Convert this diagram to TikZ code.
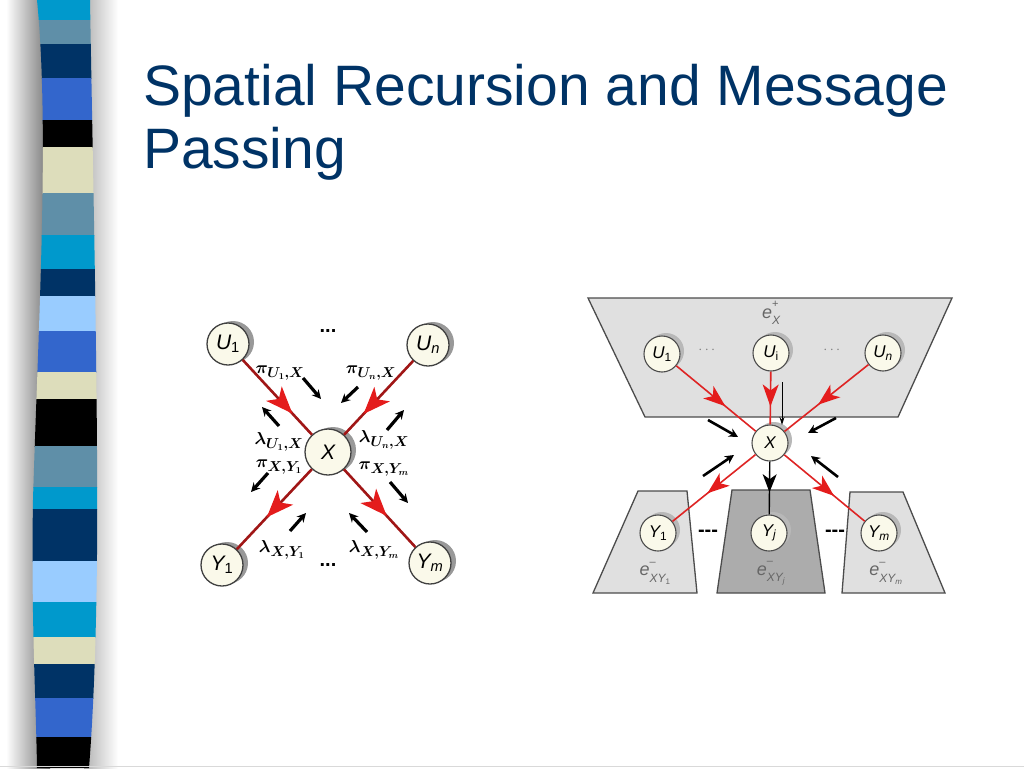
\documentclass[tikz,border=0pt]{standalone}
\usepackage{fontspec}
\setmainfont{Liberation Sans}
\usepackage{amsmath}
\usetikzlibrary{arrows.meta}
\usetikzlibrary{decorations.markings}
\usetikzlibrary{shadows}
\usetikzlibrary{positioning}

\definecolor{titleblue}{RGB}{0,51,102}
\definecolor{nodecream}{RGB}{250,249,234}
\definecolor{bondred}{RGB}{160,22,22}
\definecolor{headred}{RGB}{228,28,28}
\definecolor{linkred}{RGB}{222,36,36}
\definecolor{panelgray}{RGB}{224,224,224}
\definecolor{paneldark}{RGB}{172,172,172}
\definecolor{stcyan}{RGB}{0,153,204}
\definecolor{ststeel}{RGB}{95,143,168}
\definecolor{stnavy}{RGB}{0,51,102}
\definecolor{stblue}{RGB}{51,102,204}
\definecolor{stbeige}{RGB}{221,221,187}
\definecolor{stlight}{RGB}{153,204,255}

\newcommand\nodesub[1]{\textsubscript{\upshape #1}}
\newcommand\evid[2]{\textit{e}\rlap{\raisebox{0.6em}{\fontsize{11}{11}\selectfont #1}}%
  \raisebox{-0.35em}{\fontsize{12}{12}\selectfont\itshape #2}}

\tikzset{
  % barbed heads used half way along an edge
  red barb/.tip = {Stealth[length=27pt,width=21pt,inset=7pt,color=headred]},
  small barb/.tip = {Stealth[length=22pt,width=16pt,inset=6pt,color=headred]},
  black barb/.tip = {Stealth[length=18pt,width=14pt,inset=5pt,color=black]},
  mid head/.style 2 args = {
    postaction = {
      decorate,
      decoration = {
        markings,
        mark = at position #1 with {\arrow{#2}}
      }
    }
  }
}
\tikzset {
  title text/.style = {
    font = \fontsize{57}{63}\selectfont,
    text = titleblue,
    inner sep = 0
  },
  % variable of the left network
  bnode/.style = {
    circle,
    draw = black!75,
    line width = 1.3pt,
    fill = nodecream,
    minimum size = 42pt,
    inner sep = 0,
    font = \fontsize{21}{21}\selectfont\itshape,
    general shadow = {fill=black!40, shadow xshift=5pt, shadow yshift=2pt}
  },
  % variable of the right network
  rnode/.style = {
    circle,
    draw = black!70,
    line width = 1.1pt,
    fill = nodecream,
    minimum size = 36pt,
    inner sep = 0,
    font = \fontsize{17}{17}\selectfont\itshape,
    general shadow = {fill=black!28, shadow xshift=4pt, shadow yshift=3pt}
  },
  bond/.style = {
    draw = bondred,
    line width = 2.6pt
  },
  link/.style = {
    draw = linkred,
    line width = 1.6pt
  },
  % message arrows
  msg/.style = {
    -{Stealth[length=9pt,width=9pt]},
    line width = 3.2pt
  },
  thin msg/.style = {
    -{Stealth[length=8pt,width=5pt]},
    line width = 1pt
  },
  msg label/.style = {
    font = \fontsize{19}{19}\selectfont,
    inner sep = 0
  },
  evidence/.style = {
    font = \fontsize{18}{18}\selectfont,
    text = black!60,
    inner sep = 0
  },
  panel/.style = {
    draw = black!70,
    line width = 1.3pt,
    fill = panelgray
  },
  dots/.style = {
    font = \fontsize{20}{20}\selectfont\bfseries,
    inner sep = 0
  }
}

\begin{document}
\begin{tikzpicture}[x=1pt,y=-1pt]
  \useasboundingbox (0,0) rectangle (1024,768);

  % striped side bar
  \shade[left color=white, right color=black!55] (6,0) rectangle (50,768);
  \shade[left color=black!30, right color=white] (84,0) rectangle (118,768);
  \begin{scope}
    \clip (37,0) .. controls (50,130) and (38,330) .. (33,500)
      .. controls (31,620) and (36,700) .. (37,768)
      -- (89,768) .. controls (96,680) and (98,560) .. (97,450)
      .. controls (96,300) and (92,120) .. (90,0) -- cycle;
    \foreach \ya/\yb/\col in {0/20/stcyan, 20/44/ststeel, 44/78/stnavy,
      78/120/stblue, 120/147/black, 147/193/stbeige, 193/235/ststeel,
      235/269/stcyan, 269/296/stnavy, 296/331/stlight, 331/372/stblue,
      372/399/stbeige, 399/446/black, 446/487/ststeel, 487/509/stcyan,
      509/561/stnavy, 561/602/stlight, 602/637/stcyan, 637/664/stbeige,
      664/698/stnavy, 698/737/stblue, 737/768/black}
      \fill[\col] (20,\ya) rectangle (110,{\yb+0.5});
  \end{scope}
  \draw[black!15, line width=1pt] (0,766) -- (1024,766);

  \node[title text, anchor=base west] (title1) at (143,105) {Spatial Recursion and Message};
  \node[title text, anchor=base west] (title2) at (143,168) {Passing};

  % left network
  \node[bnode] (u1) at (228,344) {U\nodesub{1}};
  \node[bnode] (un) at (428,345) {U\textsubscript{n}};
  \node[bnode, minimum size=46pt] (x) at (328,452) {X};
  \node[bnode] (y1) at (222,565) {Y\nodesub{1}};
  \node[bnode] (ym) at (430,563) {Y\textsubscript{m}};
  \node[dots] (topdots) at (328,331) {...};
  \node[dots] (botdots) at (328,565) {...};

  \draw[bond, mid head={0.72}{red barb}] (u1) -- (x);
  \draw[bond, mid head={0.72}{red barb}] (un) -- (x);
  \draw[bond, mid head={0.6}{red barb}] (x) -- (y1);
  \draw[bond, mid head={0.6}{red barb}] (x) -- (ym);

  \node[msg label] (pi-u1) at (280,373) {$\boldsymbol{\pi_{U_1,X}}$};
  \node[msg label] (pi-un) at (371,373) {$\boldsymbol{\pi_{U_n,X}}$};
  \node[msg label] (la-u1) at (279,442) {$\boldsymbol{\lambda_{U_1,X}}$};
  \node[msg label] (la-un) at (384,440) {$\boldsymbol{\lambda_{U_n,X}}$};
  \node[msg label] (pi-y1) at (279,467) {$\boldsymbol{\pi_{X,Y_1}}$};
  \node[msg label] (pi-ym) at (384,469) {$\boldsymbol{\pi_{X,Y_m}}$};
  \node[msg label] (la-y1) at (282,550) {$\boldsymbol{\lambda_{X,Y_1}}$};
  \node[msg label] (la-ym) at (374,550) {$\boldsymbol{\lambda_{X,Y_m}}$};

  \foreach \n/\xa/\ya/\xb/\yb in {1/303/378/321/399, 2/358/387/341/403,
      3/279/426/262/407, 4/387/430/404/410, 5/268/473/251/492,
      6/390/482/408/503, 7/290/531/306/513, 8/367/532/349/513} {
    \coordinate (m\n a) at (\xa,\ya);
    \coordinate (m\n b) at (\xb,\yb);
    \draw[msg] (m\n a) -- (m\n b);
  }

  % right network
  \draw[panel] (588,298) -- (952,298) -- (898,417) -- (645,417) -- cycle;
  \draw[panel] (638,491) -- (687,491) -- (697,593) -- (593,593) -- cycle;
  \draw[panel, fill=paneldark] (732,490) -- (810,490) -- (825,593) -- (717,593) -- cycle;
  \draw[panel] (850,492) -- (903,492) -- (945,593) -- (842,593) -- cycle;

  \node[rnode] (ru1) at (662,354) {U\nodesub{1}};
  \node[rnode] (rui) at (771,353) {U\nodesub{i}};
  \node[rnode] (run) at (883,353) {U\textsubscript{n}};
  \node[rnode] (rx) at (770,443) {X};
  \node[rnode] (ry1) at (658,533) {Y\nodesub{1}};
  \node[rnode] (ryj) at (769,533) {Y\textsubscript{j}};
  \node[rnode] (rym) at (879,533) {Y\textsubscript{m}};

  \node[evidence] (eplus) at (771,313) {\evid{+}{X}};
  \node[evidence] (ey1) at (655,573) {\evid{--}{XY\nodesub{1}}};
  \node[evidence] (eyj) at (771,573) {\evid{--}{XY\textsubscript{j}}};
  \node[evidence] (eym) at (886,573) {\evid{--}{XY\textsubscript{m}}};

  \node[text=black!50, font=\fontsize{14}{14}\selectfont] (udots1) at (708,350) {$\cdots$};
  \node[text=black!50, font=\fontsize{14}{14}\selectfont] (udots2) at (833,350) {$\cdots$};
  \node[dots] (ydots1) at (708,533) {-{}-{}-};
  \node[dots] (ydots2) at (835,533) {-{}-{}-};

  \draw[link, mid head={0.62}{small barb}] (ru1) -- (rx);
  \draw[link, mid head={0.66}{small barb}] (rui) -- (rx);
  \draw[link, mid head={0.6}{small barb}] (run) -- (rx);
  \draw[link, mid head={0.58}{small barb}] (rx) -- (ry1);
  \draw[link, mid head={0.62}{small barb}] (rx) -- (rym);
  \draw[line width=1.4pt, mid head={0.58}{black barb}] (rx) -- (ryj);

  \coordinate (ta) at (782,382);
  \coordinate (tb) at (782,425);
  \draw[thin msg] (ta) -- (tb);
  \foreach \n/\xa/\ya/\xb/\yb in {1/708/420/738/437, 2/836/418/808/433,
      3/703/476/734/455, 4/838/477/811/456} {
    \coordinate (r\n a) at (\xa,\ya);
    \coordinate (r\n b) at (\xb,\yb);
    \draw[msg, line width=2.6pt] (r\n a) -- (r\n b);
  }
\end{tikzpicture}
\end{document}
